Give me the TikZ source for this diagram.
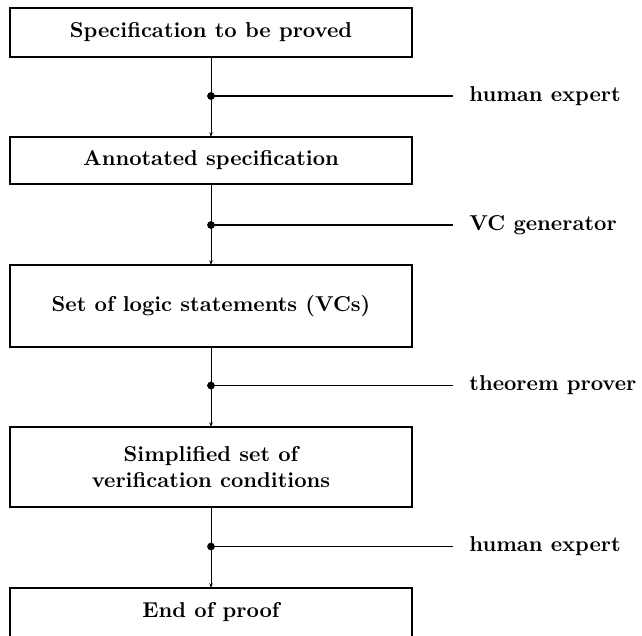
\documentclass[tikz,border=0pt]{standalone}
\usetikzlibrary{arrows.meta}
\begin{document}
\begin{tikzpicture}[x=0.465pt,y=-0.465pt,
  stagebox/.style={draw,line width=0.65pt,inner sep=0pt,outer sep=0pt,
    minimum width=186.9pt,font=\bfseries,align=center},
  flowline/.style={line width=0.3pt,-{Stealth[length=2.2pt,width=1.6pt]}},
  toolline/.style={line width=0.5pt},
  tooldot/.style={circle,fill,inner sep=0pt,minimum size=3.6pt},
  toollabel/.style={anchor=west,font=\bfseries,inner sep=0pt}]
\clip (0,0) rectangle (642,635);
\node[stagebox,minimum height=22.8pt] (b1) at (211,32.5) {Specification to be proved};
\node[stagebox,minimum height=21.9pt] (b2) at (211,160.5) {Annotated specification};
\node[stagebox,minimum height=38.1pt] (b3) at (211,306) {Set of logic statements (VCs)};
\node[stagebox,minimum height=37.2pt] (b4) at (211,467) {Simplified set of\\verification conditions};
\node[stagebox,minimum height=22.8pt] (b5) at (211,612.5) {End of proof};
% tool dots
\node[tooldot] (d1) at (211,96) {};
\node[tooldot] (d2) at (211,225) {};
\node[tooldot] (d3) at (211,385.5) {};
\node[tooldot] (d4) at (211,546.5) {};
\coordinate (e1) at (453,96);
\coordinate (e2) at (453,225);
\coordinate (e3) at (453,385.5);
\coordinate (e4) at (453,546.5);
\node[toollabel] (l1) at (469,96) {human expert};
\node[toollabel] (l2) at (469,225) {VC generator};
\node[toollabel] (l3) at (469,385.5) {theorem prover};
\node[toollabel] (l4) at (469,546.5) {human expert};
% flow
\draw[flowline] (b1.south) -- (b2.north);
\draw[flowline] (b2.south) -- (b3.north);
\draw[flowline] (b3.south) -- (b4.north);
\draw[flowline] (b4.south) -- (b5.north);
\draw[toolline] (d1.center) -- (e1);
\draw[toolline] (d2.center) -- (e2);
\draw[toolline] (d3.center) -- (e3);
\draw[toolline] (d4.center) -- (e4);
\end{tikzpicture}
\end{document}
